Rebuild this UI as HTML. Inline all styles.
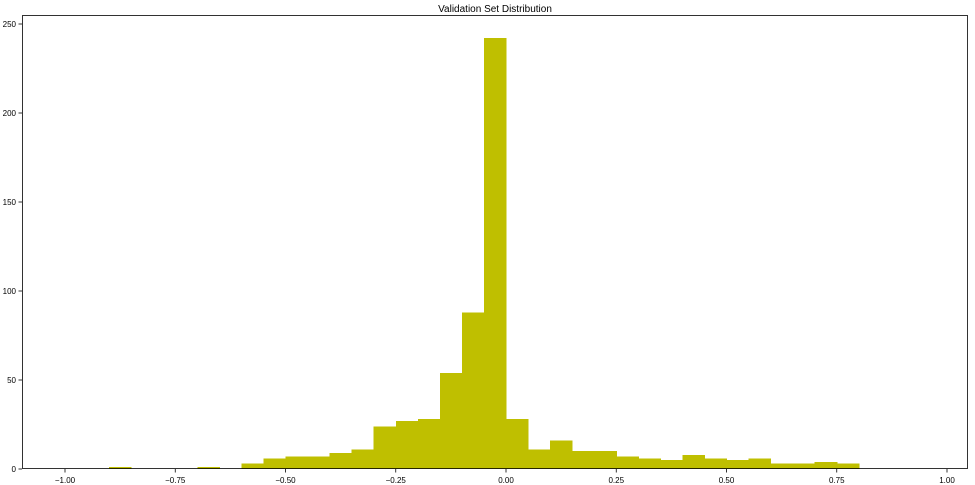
<!DOCTYPE html>
<html><head><meta charset="utf-8"><style>
body{margin:0;background:#fff;}
svg{display:block;font-family:"Liberation Sans",sans-serif;}
</style></head><body>
<svg id="chart" width="975" height="485"></svg>
<script>
const binStarts=[-0.9,-0.7,-0.6,-0.55,-0.5,-0.45,-0.4,-0.35,-0.3,-0.25,-0.2,-0.15,-0.1,-0.05,0,0.05,0.1,0.15,0.2,0.25,0.3,0.35,0.4,0.45,0.5,0.55,0.6,0.65,0.7,0.75];
const counts=[1,1,3,6,7,7,9,11,24,27,28,54,88,242,28,11,16,10,10,7,6,5,8,6,5,6,3,3,4,3];
const binWidth=0.05;
const xTicks=[-1,-0.75,-0.5,-0.25,0,0.25,0.5,0.75,1];
const xTickLabels=["\u22121.00","\u22120.75","\u22120.50","\u22120.25","0.00","0.25","0.50","0.75","1.00"];
const yTicks=[0,50,100,150,200,250];
const NS="http://www.w3.org/2000/svg";
const svg=document.getElementById('chart');
const L=22,R=968,T=15,B=469;
const x=v=>506+v*441;
const y=v=>469-v*1.78;
function mk(t,a,p){const e=document.createElementNS(NS,t);for(const k in a)e.setAttribute(k,a[k]);(p||svg).appendChild(e);return e;}
const title=mk('text',{x:(L+R)/2,y:12,'text-anchor':'middle','font-size':10});
title.textContent='Validation Set Distribution';


const bars=mk('g',{'shape-rendering':'crispEdges'});


binStarts.forEach((s,i)=>{
 const r=mk('rect',{x:x(s),y:y(counts[i]),width:x(s+binWidth)-x(s)+0.5,height:y(0)-y(counts[i]),fill:'#bfbf00'},bars);
 
 
});
const frame=mk('rect',{x:L+0.5,y:T+0.5,width:R-L-1,height:B-T-1,fill:'none',stroke:'#000','stroke-width':0.8});


xTicks.forEach((v,i)=>{
 mk('line',{x1:x(v),x2:x(v),y1:B,y2:B+3.5,stroke:'#000','stroke-width':0.8});
 const t=mk('text',{x:x(v),y:B+14,'text-anchor':'middle','font-size':8});
 t.textContent=xTickLabels[i];
 
 
});
yTicks.forEach(v=>{
 mk('line',{x1:L-3.5,x2:L,y1:y(v),y2:y(v),stroke:'#000','stroke-width':0.8});
 const t=mk('text',{x:L-6,y:y(v)+3,'text-anchor':'end','font-size':8});
 t.textContent=v;
 
 
});
</script>
</body></html>
